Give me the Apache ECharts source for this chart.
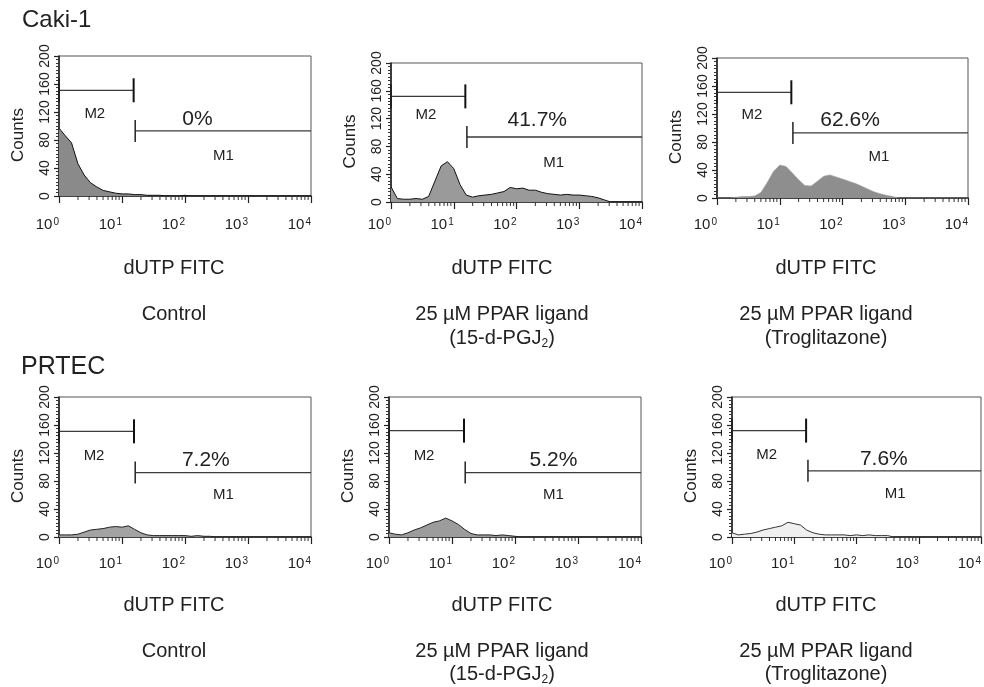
<!DOCTYPE html>
<html>
<head>
<meta charset="utf-8">
<script src="https://cdn.jsdelivr.net/npm/echarts@6/dist/echarts.min.js"></script>
<style>
html,body{margin:0;padding:0;background:#fff;}
#chart{width:984px;height:687px;}
</style>
</head>
<body>
<div id="chart"></div>
<script>
// ---------- DATA ----------
// fluorescence channel bins (dUTP FITC, log scale 10^0 .. 10^4)
const fluorBins = [1, 1.26, 1.58, 2, 2.51, 3.16, 3.98, 5.01, 6.31, 7.94,
  10, 12.6, 15.8, 20, 25.1, 31.6, 39.8, 50.1, 63.1, 79.4,
  100, 126, 158, 200, 251, 316, 398, 501, 631, 794,
  1000, 1259, 1585, 1995, 2512, 3162, 3981, 5012, 6310, 7943, 10000];

// counts per bin for each panel
const cakiControl  = [97,86,76,46,30,19,13,8,6,4, 3,3,2,2,1,1,1,0,0,0, 1,0,0,0,0,0,0,0,0,0, 0,0,0,0,0,0,0,0,0,0, 0];
const cakiPGJ2     = [22,5,4,4,5,4,8,30,52,58, 48,25,10,7,9,10,11,13,15,21, 19,20,17,17,14,12,11,10,11,10, 10,9,8,6,3,0,0,0,0,0, 0];
const cakiTrog     = [0,0,0,1,2,2,3,8,22,38, 47,45,36,26,18,17,24,31,33,30, 27,24,21,17,13,9,6,4,2,0, 0,0,0,0,0,0,0,0,0,0, 0];
const prtecControl = [3,3,3,4,7,10,11,12,14,15, 14,16,11,6,3,2,2,2,2,2, 2,1,2,1,1,0,0,0,0,0, 0,0,0,0,0,0,0,0,0,0, 0];
const prtecPGJ2    = [6,4,3,6,10,13,17,21,23,27, 23,18,11,5,3,3,3,2,3,2, 1,0,0,0,0,0,0,0,0,0, 0,0,0,0,0,0,0,0,0,0, 0];
const prtecTrog    = [6,3,4,5,7,10,12,14,16,21, 19,17,10,6,4,3,3,3,3,2, 3,2,3,2,2,2,0,0,0,0, 0,0,0,0,0,0,0,0,0,0, 0];

const panelCounts = [cakiControl, cakiPGJ2, cakiTrog, prtecControl, prtecPGJ2, prtecTrog];

// gate percentages (M1) and annotation anchors, in data units [fluorescence, counts]
const percentLabels = ['0%', '41.7%', '62.6%', '7.2%', '5.2%', '7.6%'];
const percentPos = [[158,109],[214,117],[132,111],[214,110],[407,110],[275,111]];
// M2 gate: [from, to, countLevel]; M1 gate: [from, to, countLevel]
const m2Gate = [[1,15.3,151],[1,15.3,152],[1,15.3,151],[1,15.5,151],[1,15.5,152],[1,15.5,152]];
const m1Gate = [[16.2,10000,93],[16.2,10000,93.5],[16.2,10000,93],[16.2,10000,92],[16.2,10000,92],[16.6,10000,94.5]];
const m2LabelPos = [[3.7,118],[3.6,126],[3.6,119],[3.6,116],[3.6,116],[3.6,117]];
const m1LabelPos = [[407,58],[390,57],[380,59],[407,60],[407,60],[417,61]];

// axes
const yMin = 0, yMax = 200, yInterval = 40;
const xMin = 1, xMax = 10000;
const xMinorTicks = [2,3,4,5,6,7,8,9, 20,30,40,50,60,70,80,90, 200,300,400,500,600,700,800,900, 2000,3000,4000,5000,6000,7000,8000,9000];

// texts
const rowTitles = ['Caki-1', 'PRTEC'];
const xAxisTitle = 'dUTP FITC';
const yAxisTitle = 'Counts';
const conditionLine1 = ['Control', '25 µM PPAR ligand', '25 µM PPAR ligand'];
const conditionLine2 = ['', '{m|(15-d-PGJ}{sub|2}{m|)}', '{m|(Troglitazone)}'];

// ---------- LAYOUT / STYLE ----------
const FONT = '"Liberation Sans", Arial, Helvetica, sans-serif';
const grids = [
  {left:59,  top:56,  width:252, height:140, xMargin:21},
  {left:391, top:63,  width:251, height:139, xMargin:15},
  {left:717, top:58,  width:251, height:140, xMargin:19},
  {left:59,  top:397, width:252, height:140, xMargin:19},
  {left:389, top:397, width:252, height:140, xMargin:19},
  {left:732, top:397, width:249, height:140, xMargin:19}
];
const histStyles = [
  {fill:'#8a8a8a', line:'#111', lw:1},
  {fill:'#9a9a9a', line:'#111', lw:1},
  {fill:'#8e8e8e', line:'#a0a0a0', lw:0.6},
  {fill:'#a3a3a3', line:'#222', lw:1},
  {fill:'#9c9c9c', line:'#222', lw:1},
  {fill:'#efefef', line:'#333', lw:1}
];
const colTextX = [174, 502, 826];
const rowTextY = [{t:268, l1:314, l2:339}, {t:605, l1:651, l2:675}];

const chart = echarts.init(document.getElementById('chart'), null, {renderer:'canvas'});

const gridOpt = [], xAxes = [], yAxes = [], series = [], graphics = [];

grids.forEach((g, i) => {
  gridOpt.push({left:g.left, top:g.top, width:g.width, height:g.height, show:true,
    borderColor:'#555', borderWidth:1, backgroundColor:'transparent'});
  xAxes.push({
    type:'log', logBase:10, min:xMin, max:xMax, gridIndex:i,
    axisLine:{show:true, onZero:false, lineStyle:{color:'#222', width:1.6}},
    axisTick:{show:true, length:7, lineStyle:{color:'#222', width:1.2}},
    splitLine:{show:false},
    axisLabel:{
      margin:g.xMargin, align:'right', color:'#222',
      formatter: v => '{b|10}{s|' + Math.round(Math.log10(v)) + '}',
      rich:{ b:{fontSize:15, fontFamily:FONT, color:'#222'},
             s:{fontSize:10, fontFamily:FONT, color:'#222', verticalAlign:'top', padding:[0,0,6,1]} }
    }
  });
  yAxes.push({
    type:'value', min:yMin, max:yMax, interval:yInterval, gridIndex:i,
    axisLine:{show:true, onZero:false, lineStyle:{color:'#222', width:1.6}},
    axisTick:{show:true, length:5, lineStyle:{color:'#222', width:1.2}},
    minorTick:{show:true, splitNumber:8, length:3, lineStyle:{color:'#333', width:1}},
    splitLine:{show:false},
    axisLabel:{rotate:90, margin:7, fontSize:14, fontFamily:FONT, color:'#222'}
  });

  const st = histStyles[i];
  series.push({
    type:'line', xAxisIndex:i, yAxisIndex:i, showSymbol:false, symbol:'none', silent:true,
    data: fluorBins.map((x, k) => [x, panelCounts[i][k]]),
    lineStyle:{color:st.line, width:st.lw},
    areaStyle:{color:st.fill, opacity:1},
    z:2
  });

  // log minor ticks on x axis
  series.push({
    type:'custom', xAxisIndex:i, yAxisIndex:i, silent:true, clip:false, z:5,
    data: xMinorTicks.map(v => [v, 0]),
    renderItem:(params, api) => {
      const p = api.coord([api.value(0), 0]);
      return {type:'line', shape:{x1:p[0], y1:p[1], x2:p[0], y2:p[1] + 4},
        style:{stroke:'#333', lineWidth:1}};
    }
  });

  // gates M2 and M1
  series.push({
    type:'custom', xAxisIndex:i, yAxisIndex:i, silent:true, clip:false, z:6,
    encode:{x:[0,1], y:2},
    data:[m2Gate[i], m1Gate[i]],
    renderItem:(params, api) => {
      const a = api.coord([api.value(0), api.value(2)]);
      const b = api.coord([api.value(1), api.value(2)]);
      const h = params.dataIndex === 0 ? 12 : 11;
      const children = [
        {type:'line', shape:{x1:a[0], y1:a[1], x2:b[0], y2:b[1]}, style:{stroke:'#3a3a3a', lineWidth:1.3}},
        {type:'line', shape:{x1:a[0], y1:a[1]-h, x2:a[0], y2:a[1]+h}, style:{stroke:'#222', lineWidth:params.dataIndex === 0 ? 2 : 1.5}}
      ];
      if (params.dataIndex === 0) {
        children.push({type:'line', shape:{x1:b[0], y1:b[1]-h, x2:b[0], y2:b[1]+h}, style:{stroke:'#111', lineWidth:2}});
      }
      return {type:'group', children};
    }
  });

  // gate labels
  const labelData = [
    [percentPos[i][0], percentPos[i][1], 0],
    [m2LabelPos[i][0], m2LabelPos[i][1], 1],
    [m1LabelPos[i][0], m1LabelPos[i][1], 2]
  ];
  series.push({
    type:'custom', xAxisIndex:i, yAxisIndex:i, silent:true, clip:false, z:7,
    data: labelData,
    renderItem:(params, api) => {
      const p = api.coord([api.value(0), api.value(1)]);
      const kind = api.value(2);
      const txt = kind === 0 ? percentLabels[i] : (kind === 1 ? 'M2' : 'M1');
      return {type:'text', x:p[0], y:p[1],
        style:{text:txt, fill:'#222', font:(kind === 0 ? '21px ' : '15px ') + FONT,
               textAlign:'center', textVerticalAlign:'middle', align:'center', verticalAlign:'middle'}};
    }
  });

  // Counts title
  graphics.push({type:'text', x:g.left - 41, y:g.top + g.height/2 + 9, rotation:Math.PI/2,
    style:{text:yAxisTitle, font:'17px ' + FONT, fill:'#222',
      textAlign:'center', textVerticalAlign:'middle', align:'center', verticalAlign:'middle'}});
});

// row titles
graphics.push({type:'text', x:22, y:20, style:{text:rowTitles[0], font:'24px ' + FONT, fill:'#222', textVerticalAlign:'middle', verticalAlign:'middle'}});
graphics.push({type:'text', x:21, y:367, style:{text:rowTitles[1], font:'25px ' + FONT, fill:'#222', textVerticalAlign:'middle', verticalAlign:'middle'}});

// below-panel texts
rowTextY.forEach(r => {
  colTextX.forEach((cx, c) => {
    graphics.push({type:'text', x:cx, y:r.t, style:{text:xAxisTitle, font:'20px ' + FONT, fill:'#222',
      textAlign:'center', textVerticalAlign:'middle', align:'center', verticalAlign:'middle'}});
    graphics.push({type:'text', x:cx, y:r.l1, style:{text:conditionLine1[c], font:'20px ' + FONT, fill:'#222',
      textAlign:'center', textVerticalAlign:'middle', align:'center', verticalAlign:'middle'}});
    if (conditionLine2[c]) {
      graphics.push({type:'text', x:cx, y:r.l2, style:{text:conditionLine2[c], fill:'#222',
        textAlign:'center', textVerticalAlign:'middle', align:'center', verticalAlign:'middle',
        rich:{
          m:{fontSize:20, fontFamily:FONT, fill:'#222', verticalAlign:'top', lineHeight:22},
          sub:{fontSize:12, fontFamily:FONT, fill:'#222', verticalAlign:'bottom', lineHeight:14, padding:[14,0,0,0]}
        }}});
    }
  });
});

chart.setOption({
  animation:false,
  backgroundColor:'#fff',
  textStyle:{fontFamily:FONT},
  grid:gridOpt, xAxis:xAxes, yAxis:yAxes, series:series,
  graphic:{elements:graphics}
});
</script>
</body>
</html>
